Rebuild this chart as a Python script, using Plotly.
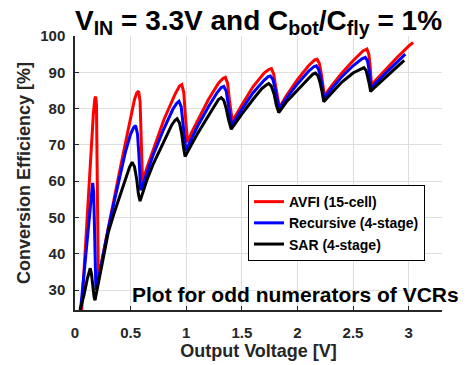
import plotly.graph_objects as go

# ---- data ----
avfi_v = [0.06, 0.10, 0.14, 0.165, 0.178, 0.186, 0.193, 0.198, 0.203, 0.21,
          0.25, 0.30, 0.35, 0.40, 0.45, 0.50, 0.535, 0.555, 0.572, 0.585, 0.595, 0.607,
          0.65, 0.70, 0.80, 0.90, 0.94, 0.96, 0.978, 0.99, 1.0, 1.012,
          1.05, 1.10, 1.20, 1.29, 1.33, 1.352, 1.372, 1.39, 1.405, 1.415,
          1.50, 1.60, 1.70, 1.745, 1.766, 1.787, 1.805, 1.822, 1.838,
          1.90, 2.00, 2.10, 2.155, 2.177, 2.197, 2.215, 2.23, 2.243,
          2.30, 2.40, 2.50, 2.59, 2.625, 2.642, 2.653, 2.66, 2.666,
          2.70, 2.80, 2.90, 3.00, 3.04]
avfi_eff = [24.5, 45.5, 66.5, 78.5, 82.7, 83.3, 81, 70, 52, 32.5,
            39.5, 47.5, 55, 62.5, 70, 77.5, 82.5, 84.3, 84.8, 82, 73, 60,
            64, 68.5, 77, 84, 86.2, 86.6, 84.5, 79, 74, 70.7,
            73.5, 76.5, 82.5, 87, 88.3, 88.6, 87, 82, 78, 76.5,
            81, 86, 89.8, 90.8, 91.0, 89.5, 86, 82.5, 80.3,
            83.5, 88, 91.8, 93.4, 93.6, 92.5, 89.5, 86.5, 83.5,
            86, 89.8, 93.2, 95.9, 96.4, 95, 92, 89, 86.5,
            87.7, 91, 94.2, 97.2, 98.2]

rec_v = [0.05, 0.09, 0.12, 0.145, 0.159, 0.168, 0.174, 0.18, 0.188,
         0.22, 0.26, 0.30, 0.35, 0.40, 0.453, 0.50, 0.528, 0.545, 0.562, 0.575, 0.59,
         0.65, 0.70, 0.80, 0.88, 0.915, 0.935, 0.955, 0.97, 0.985, 0.998,
         1.05, 1.10, 1.20, 1.28, 1.315, 1.338, 1.36, 1.38, 1.398, 1.408,
         1.50, 1.60, 1.70, 1.738, 1.757, 1.78, 1.80, 1.82, 1.835,
         1.90, 2.00, 2.10, 2.15, 2.17, 2.19, 2.21, 2.228, 2.24,
         2.30, 2.40, 2.50, 2.58, 2.61, 2.63, 2.645, 2.655, 2.662,
         2.70, 2.80, 2.90, 2.97]
rec_eff = [24.5, 38, 48.5, 56.5, 59.5, 57, 50, 40, 30,
           34.5, 41, 47, 54, 61, 68, 73, 74.8, 75.3, 73, 67, 57.5,
           62.5, 67, 74.5, 79.8, 81.5, 82, 80.5, 77, 72, 68.5,
           72, 75, 80.5, 84.5, 85.8, 86.1, 84.8, 81, 76.5, 75.3,
           79.8, 84.3, 87.8, 88.8, 89.0, 88, 85.5, 82, 79.8,
           82.8, 86.8, 90.3, 91.6, 91.8, 90.8, 88.5, 85.5, 82.8,
           85.2, 88.8, 91.8, 93.7, 94.1, 93.2, 90.5, 87.5, 85.6,
           87, 90, 93, 95.0]

sar_v = [0.045, 0.08, 0.11, 0.125, 0.137, 0.148, 0.16, 0.172, 0.18,
         0.22, 0.26, 0.30, 0.35, 0.40, 0.45, 0.49, 0.514, 0.535, 0.555, 0.57, 0.585,
         0.645, 0.70, 0.80, 0.87, 0.90, 0.918, 0.94, 0.96, 0.975, 0.99,
         1.05, 1.10, 1.20, 1.26, 1.29, 1.315, 1.338, 1.36, 1.38, 1.405,
         1.50, 1.60, 1.68, 1.72, 1.742, 1.765, 1.79, 1.81, 1.832,
         1.90, 2.00, 2.10, 2.14, 2.162, 2.185, 2.205, 2.222, 2.237,
         2.30, 2.40, 2.50, 2.57, 2.597, 2.618, 2.635, 2.648, 2.658,
         2.70, 2.80, 2.90, 2.96]
sar_eff = [24.5, 28.5, 33, 35.2, 36, 34.5, 31, 28, 27.2,
           33.5, 40, 46, 51, 55.5, 60, 63.8, 65.2, 64, 60.5, 56.5, 54.5,
           60.2, 64.5, 71, 75.5, 76.8, 77.2, 76, 73, 69.5, 66.8,
           70.2, 73, 78, 81.2, 82.5, 83.0, 82.3, 80, 77, 74.3,
           78.5, 82.5, 85.5, 86.5, 86.9, 86.2, 84, 81, 78.9,
           81.8, 85.2, 88.3, 89.5, 89.8, 89, 87, 84.5, 81.9,
           84, 87.3, 89.8, 91.0, 91.3, 90.5, 88.5, 86.5, 84.7,
           86, 88.8, 91.5, 93.3]

series_names = ["AVFI (15-cell)", "Recursive (4-stage)", "SAR (4-stage)"]
x_ticks = [0, 0.5, 1, 1.5, 2, 2.5, 3]
x_ticktext = ["0", "0.5", "1", "1.5", "2", "2.5", "3"]
y_ticks = [30, 40, 50, 60, 70, 80, 90, 100]

FONT = "Liberation Sans, Arial, Helvetica, sans-serif"
AX = "#262626"

fig = go.Figure()
for xs, ys, name, col in [(avfi_v, avfi_eff, series_names[0], "#ff0000"),
                          (rec_v, rec_eff, series_names[1], "#0000ff"),
                          (sar_v, sar_eff, series_names[2], "#000000")]:
    fig.add_trace(go.Scatter(x=xs, y=ys, mode="lines", name=name,
                             line=dict(color=col, width=3)))

axis_common = dict(showgrid=True, gridcolor="#dedede", gridwidth=1,
                   showline=True, linecolor=AX, linewidth=1.5,
                   ticks="inside", ticklen=4, tickcolor=AX, tickwidth=1,
                   zeroline=False, automargin=False,
                   tickfont=dict(family=FONT, size=15, color=AX, weight="bold"))

# the page body adds an 8px offset, so the figure is 8px smaller than the window
fig.update_layout(
    width=467, height=357, autosize=False,
    margin=dict(l=67, r=33, t=28, b=55, pad=0, autoexpand=False),
    paper_bgcolor="white", plot_bgcolor="white",
    font=dict(family=FONT, color=AX),
    title=dict(text="V<sub>IN</sub> = 3.3V and C<sub>bot</sub>/C<sub>fly</sub> = 1%",
               font=dict(family=FONT, size=28, color="black", weight="bold"),
               x=0.5, xref="paper", xanchor="center",
               y=0.9944, yref="container", yanchor="top", automargin=False),
    xaxis=dict(range=[0, 3.3], tickvals=x_ticks, ticktext=x_ticktext,
               ticklabelstandoff=8,
               title=dict(text="Output Voltage [V]", standoff=3,
                          font=dict(family=FONT, size=18, color=AX, weight="bold")),
               **axis_common),
    yaxis=dict(range=[24.5, 100], tickvals=y_ticks, ticklabelstandoff=5,
               title=dict(text="Conversion Efficiency [%]", standoff=5,
                          font=dict(family=FONT, size=18, color=AX, weight="bold")),
               **axis_common),
    legend=dict(x=0.4714, y=0.456, xanchor="left", yanchor="top",
                bgcolor="white", bordercolor="black", borderwidth=1,
                font=dict(family=FONT, size=14, color="black", weight="bold"),
                itemwidth=30, tracegroupgap=0),
    annotations=[dict(text="Plot for odd numerators of VCRs",
                      x=0.5995, y=0.058, xref="paper", yref="paper",
                      xanchor="center", yanchor="middle", showarrow=False,
                      font=dict(family=FONT, size=21, color="black", weight="bold"))],
)

fig.write_html("out.html")
